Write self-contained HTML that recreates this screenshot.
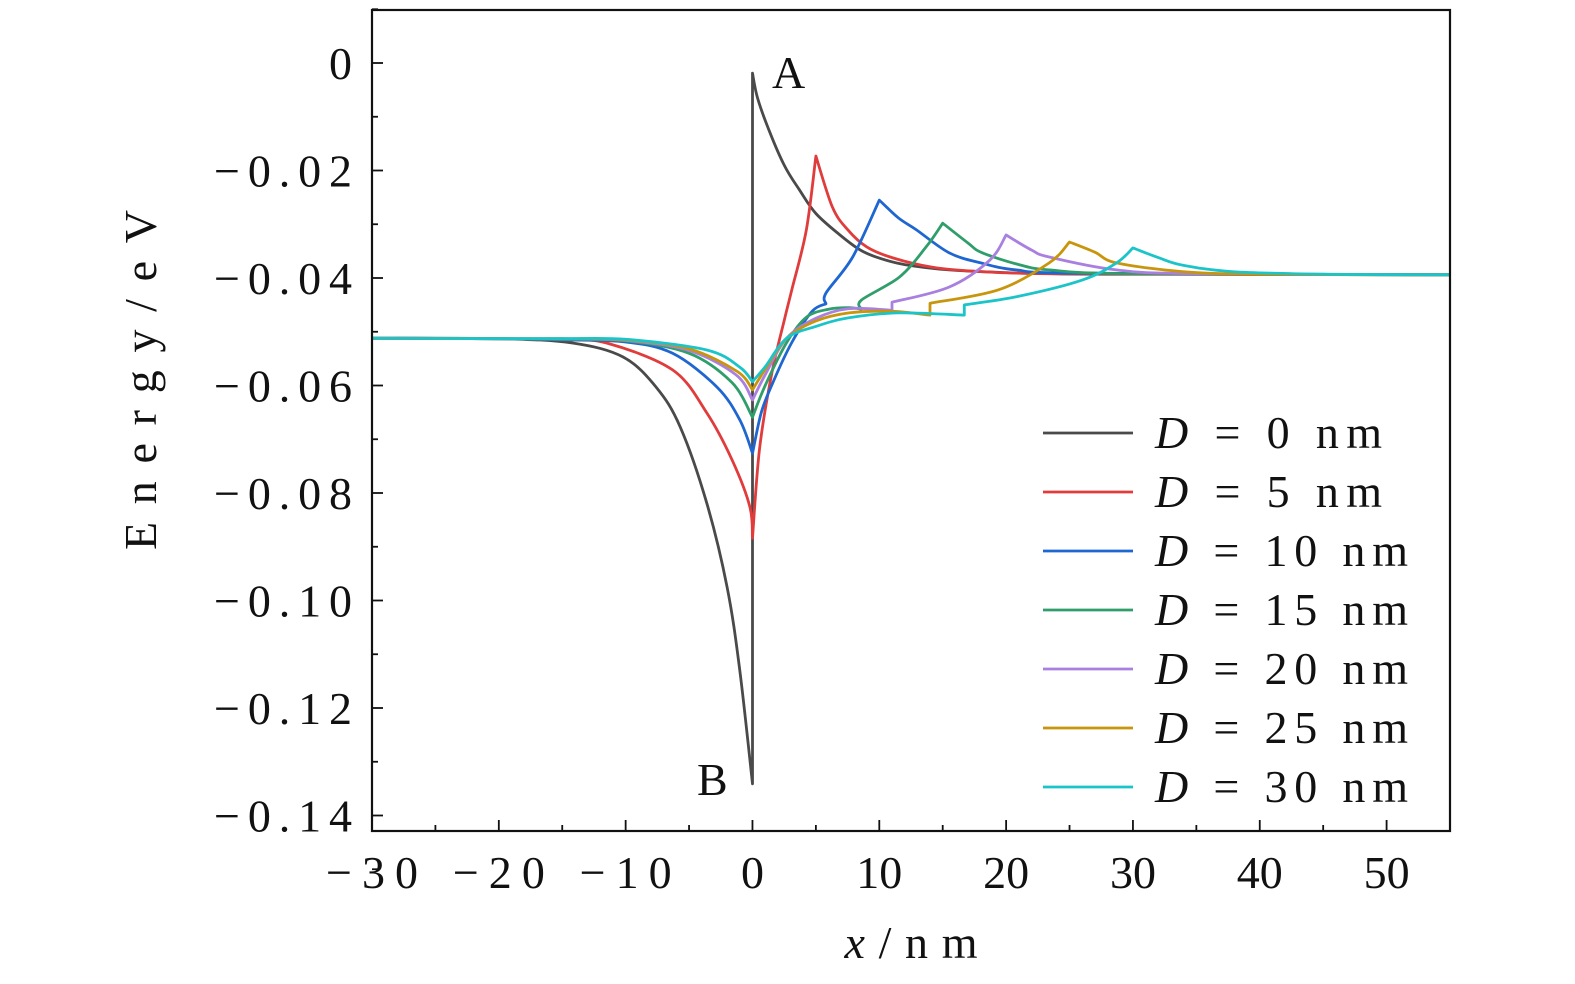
<!DOCTYPE html>
<html><head><meta charset="utf-8"><style>
html,body{margin:0;padding:0;background:#fff;}
svg{display:block;}
text{font-family:"Liberation Serif",serif;fill:#111;}
</style></head><body>
<svg id="chart" width="1575" height="984" xmlns="http://www.w3.org/2000/svg"></svg>
<script>
const xTicks=[-30,-20,-10,0,10,20,30,40,50];
const yTicks=[0,-0.02,-0.04,-0.06,-0.08,-0.10,-0.12,-0.14];
const yTickLabels=["0","\u22120.02","\u22120.04","\u22120.06","\u22120.08","\u22120.10","\u22120.12","\u22120.14"];
const xTickLabels=["\u221230","\u221220","\u221210","0","10","20","30","40","50"];
const seriesLabels=["0","5","10","15","20","25","30"];
const colors=["#4a4a4a","#e03c3c","#1f66d0","#2f9e6a","#a97fe0","#c8960c","#1bc4c8"];
const xs0=[-30,-20,-14.2,-10.2,-7.6,-5.7,-3.6,-2.0,-1.0,0,0,0.4,1.3,2.5,3.7,5,6.9,8.5,10,12,15.5,20,23.4,30,55];
const ys0=[-0.0512,-0.0513,-0.0521,-0.0547,-0.0603,-0.0677,-0.0819,-0.0975,-0.113,-0.1341,-0.0019,-0.0065,-0.0125,-0.019,-0.0236,-0.028,-0.032,-0.0348,-0.0363,-0.0375,-0.0385,-0.039,-0.0392,-0.0393,-0.0394];
const xs1=[-30,-20,-15,-11.5,-6.3,-3.6,-1.6,-0.2,0,0.55,1.5,2.6,3.1,4.25,5,6.3,7.5,9,11,14.2,18,25,55];
const ys1=[-0.0512,-0.0513,-0.0515,-0.0521,-0.0571,-0.0651,-0.0739,-0.0826,-0.0884,-0.072,-0.058,-0.047,-0.0422,-0.031,-0.0173,-0.0268,-0.031,-0.0342,-0.0362,-0.038,-0.0388,-0.0392,-0.0394];
const xs2=[-30,-20,-15,-10,-6.3,-2.8,-1.0,0,0.7,1.6,3.1,4.7,5.8,5.8,7.9,10,11.5,12.9,15.5,18,20.8,26,55];
const ys2=[-0.0512,-0.0513,-0.0515,-0.0519,-0.054,-0.0603,-0.0664,-0.0726,-0.065,-0.0595,-0.052,-0.0462,-0.0448,-0.0428,-0.0361,-0.0255,-0.0288,-0.031,-0.0353,-0.0372,-0.0385,-0.0391,-0.0394];
const xs3=[-30,-20,-15,-10,-5,-1.6,0,1,2.7,4.25,6,7.6,8.6,8.6,11.6,13.7,15,17,18.1,21,23.4,30,55];
const ys3=[-0.0512,-0.0513,-0.0514,-0.0517,-0.054,-0.0595,-0.0659,-0.06,-0.052,-0.0473,-0.0458,-0.0455,-0.0458,-0.0441,-0.0398,-0.0342,-0.0298,-0.0335,-0.0353,-0.0375,-0.0385,-0.0392,-0.0394];
const xs4=[-30,-20,-15,-10,-5,-1.3,0,1,2.7,5,7.6,11,11,15.5,18.7,20,22,23.4,28.7,35,55];
const ys4=[-0.0512,-0.0513,-0.0513,-0.0516,-0.0535,-0.058,-0.0627,-0.058,-0.0512,-0.0475,-0.0457,-0.046,-0.0445,-0.0417,-0.0367,-0.032,-0.0348,-0.0361,-0.0385,-0.0392,-0.0394];
const xs5=[-30,-20,-15,-10,-5,-1.2,0,1,2.7,5,7.6,11,14,14,19.4,23.4,25,27,28.7,33.9,40,55];
const ys5=[-0.0512,-0.0513,-0.0513,-0.0515,-0.0532,-0.0574,-0.0608,-0.057,-0.0512,-0.048,-0.0465,-0.0462,-0.0469,-0.0447,-0.0422,-0.0372,-0.0333,-0.0352,-0.0372,-0.0388,-0.0393,-0.0394];
const xs6=[-30,-20,-15,-10,-3.6,-1.0,0,1,2.7,5,7.6,11.5,16.7,16.7,20.8,26,28.7,30,32,33.9,37.8,45,55];
const ys6=[-0.0512,-0.0513,-0.0513,-0.0514,-0.0534,-0.0566,-0.0593,-0.0565,-0.0512,-0.049,-0.0474,-0.0465,-0.0469,-0.045,-0.0435,-0.0404,-0.0372,-0.0344,-0.0362,-0.0376,-0.0388,-0.0393,-0.0394];
const XS=[xs0,xs1,xs2,xs3,xs4,xs5,xs6], YS=[ys0,ys1,ys2,ys3,ys4,ys5,ys6];

const L=372,R=1450,T=10,B=831;
const xMin=-30,xMax=55;
const sx=v=>L+(v-xMin)/(xMax-xMin)*(R-L);
const sy=v=>63+(-v)*5375;
const svg=document.getElementById('chart');
const NS='http://www.w3.org/2000/svg';
function mk(tag,attrs,parent){const e=document.createElementNS(NS,tag);for(const k in attrs)e.setAttribute(k,attrs[k]);(parent||svg).appendChild(e);return e;}

function smoothPath(P){
  const corner=[];
  for(let i=0;i<P.length;i++){
    if(i===0||i===P.length-1){corner.push(true);continue;}
    const a=[P[i][0]-P[i-1][0],P[i][1]-P[i-1][1]],b=[P[i+1][0]-P[i][0],P[i+1][1]-P[i][1]];
    const la=Math.hypot(a[0],a[1])||1,lb=Math.hypot(b[0],b[1])||1;
    const cos=(a[0]*b[0]+a[1]*b[1])/(la*lb);
    corner.push(cos<0.5);
  }
  let d='M'+P[0][0].toFixed(1)+','+P[0][1].toFixed(1);
  for(let i=0;i<P.length-1;i++){
    const p1=P[i],p2=P[i+1];
    const p0=corner[i]?p1:P[i-1];
    const p3=corner[i+1]?p2:P[i+2];
    const c1=[p1[0]+(p2[0]-p0[0])/6,p1[1]+(p2[1]-p0[1])/6];
    const c2=[p2[0]-(p3[0]-p1[0])/6,p2[1]-(p3[1]-p1[1])/6];
    d+=' C'+c1[0].toFixed(1)+','+c1[1].toFixed(1)+' '+c2[0].toFixed(1)+','+c2[1].toFixed(1)+' '+p2[0].toFixed(1)+','+p2[1].toFixed(1);
  }
  return d;
}

const gS=mk('g',{});


for(let s=0;s<XS.length;s++){
  const P=XS[s].map((x,i)=>[sx(x),sy(YS[s][i])]);
  const p=mk('path',{d:smoothPath(P),fill:'none',stroke:colors[s],'stroke-width':2.8,'stroke-linejoin':'round'},gS);
  
  
}
const fr=mk('rect',{x:L,y:T,width:R-L,height:B-T,fill:'none',stroke:'#111','stroke-width':2.2});


for(let v=-30;v<=55;v+=5){
  const major=v%10===0;
  mk('line',{x1:sx(v),x2:sx(v),y1:B,y2:B-(major?11:6),stroke:'#111','stroke-width':1.8});
}
xTicks.forEach((v,i)=>{
  const lab=xTickLabels[i];
  const attrs={x:sx(v),y:888,'text-anchor':'middle','font-size':46};
  if(lab.length===3&&lab[0]==='\u2212'){attrs.textLength=92;attrs.lengthAdjust='spacing';}
  const t=mk('text',attrs);
  t.textContent=lab;
  
  
});
for(let k=-1;k<=15;k++){
  const v=-k*0.01;const major=k%2===0;
  mk('line',{x1:L,x2:L+(major?11:6),y1:sy(v),y2:sy(v),stroke:'#111','stroke-width':1.8});
}
yTicks.forEach((v,i)=>{
  const lab=yTickLabels[i];
  const attrs={x:352,y:sy(v)+16,'text-anchor':'end','font-size':46};
  if(lab.length>1){attrs.textLength=138;attrs.lengthAdjust='spacing';}
  const t=mk('text',attrs);
  t.textContent=lab;
  
  
});
const yt=mk('text',{x:0,y:0,'text-anchor':'middle','font-size':46,textLength:340,lengthAdjust:'spacing',transform:'translate(156,380) rotate(-90)'});
yt.textContent='Energy/eV';


const xt=mk('text',{x:911,y:958,'text-anchor':'middle','font-size':46,textLength:133,lengthAdjust:'spacing'});
xt.innerHTML='<tspan font-style="italic">x</tspan>/nm';


const a=mk('text',{x:772,y:88,'font-size':46});a.textContent='A';


const b=mk('text',{x:697,y:795,'font-size':46});b.textContent='B';


const gL=mk('g',{});


seriesLabels.forEach((lab,i)=>{
  const y=433+i*59;
  const ln=mk('line',{x1:1043,x2:1133,y1:y,y2:y,stroke:colors[i],'stroke-width':2.8},gL);
  
  
  const t=mk('text',{x:1155,y:y+15,'font-size':46,textLength:(lab.length>1?253:227),lengthAdjust:'spacing'},gL);
  t.innerHTML='<tspan font-style="italic">D</tspan> = '+lab+' nm';
  
  
});
</script>
</body></html>
